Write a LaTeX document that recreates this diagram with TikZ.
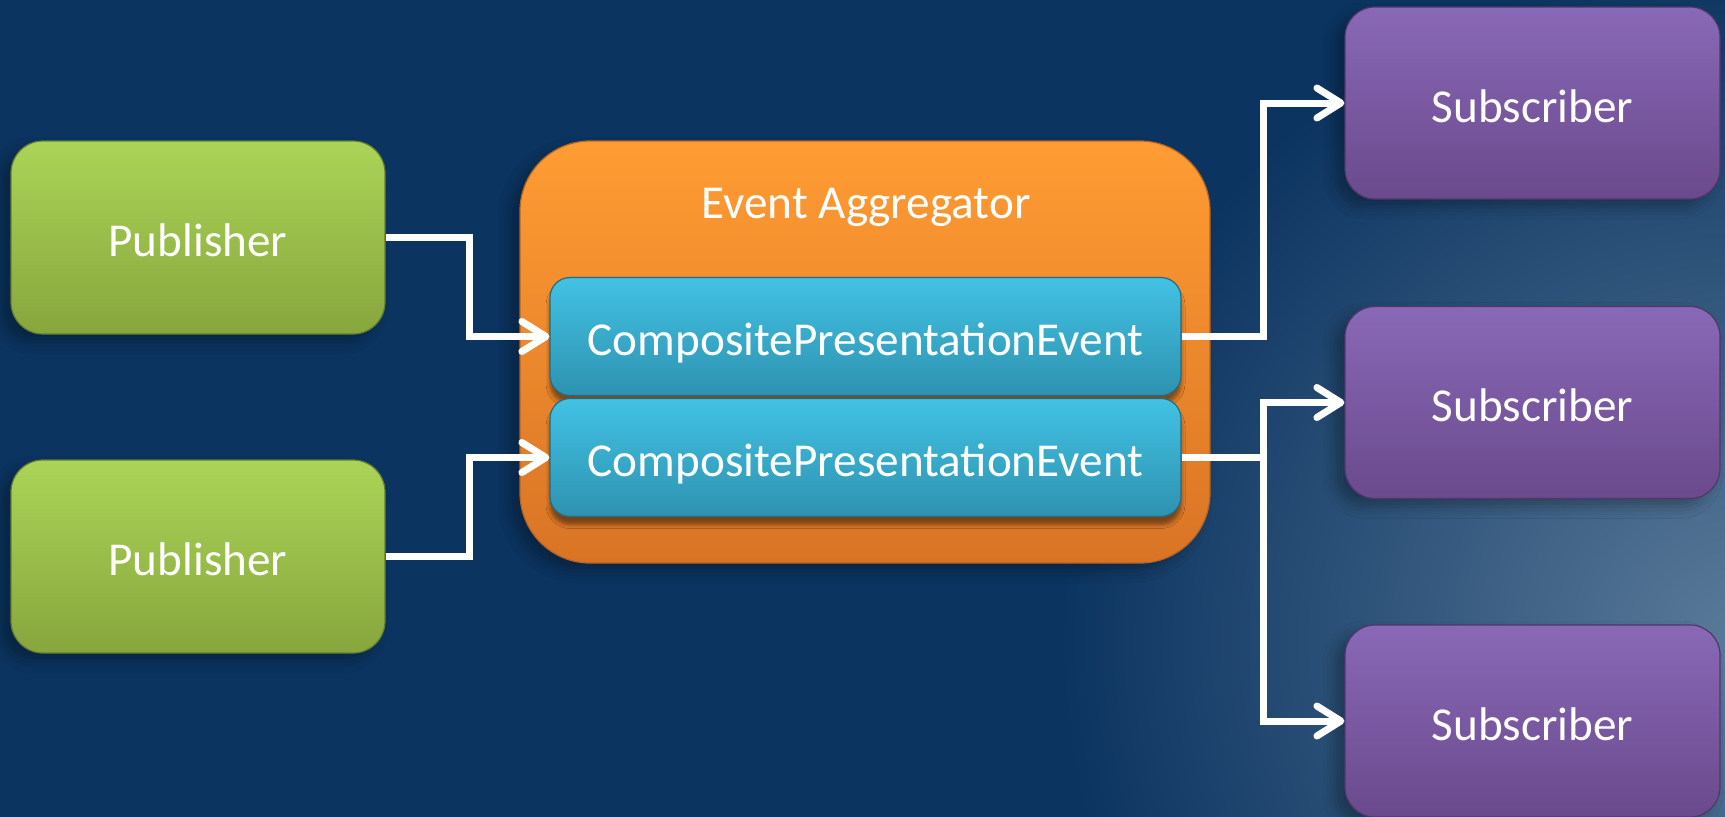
\documentclass[tikz,border=0pt]{standalone}
\usepackage{fontspec}
\setmainfont{Carlito}
\usetikzlibrary{positioning, arrows.meta, shadows.blur}
\definecolor{navy}{HTML}{0B3460}
\definecolor{glow}{HTML}{5A7A99}
\definecolor{pubtop}{HTML}{ABD457}
\definecolor{pubbot}{HTML}{87A63D}
\definecolor{aggtop}{HTML}{FF9C33}
\definecolor{aggbot}{HTML}{D97426}
\definecolor{evtop}{HTML}{42C2E4}
\definecolor{evbot}{HTML}{2E92B0}
\definecolor{subtop}{HTML}{8968B7}
\definecolor{subbot}{HTML}{6A4A8C}
\tikzset{
	x=0.5pt, y=-0.5pt, % one unit is one pixel of the reference
	>={Straight Barb[length=12pt,width=15pt,round]}, % open white arrow heads
	every node/.style={font=\fontsize{23.6}{28}\selectfont, text=white},
	box/.style={inner sep=0pt, text height=19pt, text depth=0pt, line width=0.6pt,
		blur shadow={shadow xshift=-5pt, shadow yshift=-4pt, shadow opacity=30, shadow blur radius=6pt}},
	publisher/.style={box, rounded corners=16pt, top color=pubtop, bottom color=pubbot,
		draw=pubbot!75!black, minimum width=187pt, minimum height=96.5pt},
	aggregator/.style={box, rounded corners=35pt, top color=aggtop, bottom color=aggbot,
		draw=aggbot!85!black, minimum width=345pt, minimum height=211pt},
	event/.style={box, rounded corners=10pt, top color=evtop, bottom color=evbot,
		draw=evbot!75!black, minimum width=315.5pt, minimum height=59pt,
		blur shadow={shadow xshift=0pt, shadow yshift=-4pt, shadow opacity=25, shadow blur radius=2pt}},
	subscriber/.style={box, rounded corners=15pt, top color=subtop, bottom color=subbot,
		draw=subbot!75!black, minimum width=187.5pt, minimum height=96pt},
	link/.style={draw=white, line width=3.5pt}, % white connectors
}
\begin{document}
\begin{tikzpicture}
	\useasboundingbox (0,0) rectangle (1725,816);
	% background with the light corner at the bottom right
	\fill[navy] (-20,-20) rectangle (1745,836);
	\begin{scope}
		\clip (-20,-20) rectangle (1745,836);
		\shade[inner color=glow, outer color=navy] (1740,640) circle (340pt);
	\end{scope}

	\node[publisher] (pub1) at (198,237.5) {Publisher};
	\node[publisher] (pub2) at (198,556.5) {Publisher};
	\node[aggregator] (agg) at (865,352) {};
	\node[anchor=base] (aggtitle) at (866,218) {Event Aggregator};
	\node[event] (ev1) at (865.5,336.5) {CompositePresentationEvent};
	\node[event] (ev2) at (865.5,457.5) {CompositePresentationEvent};
	\node[subscriber] (sub1) at (1532.5,103) {Subscriber};
	\node[subscriber] (sub2) at (1532.5,402.5) {Subscriber};
	\node[subscriber] (sub3) at (1532.5,721) {Subscriber};

	\draw[link,->] (pub1.east) -- ++(84,0) |- (ev1.west);
	\draw[link,->] (pub2.east) -- ++(84,0) |- (ev2.west);
	\draw[link,->] (ev1.east) -- ++(82,0) |- (sub1.west);
	\draw[link] (ev2.east) -- ++(82,0) coordinate (fork);
	\draw[link,->] (fork) |- (sub2.west);
	\draw[link,->] (fork) |- (sub3.west);
\end{tikzpicture}
\end{document}
